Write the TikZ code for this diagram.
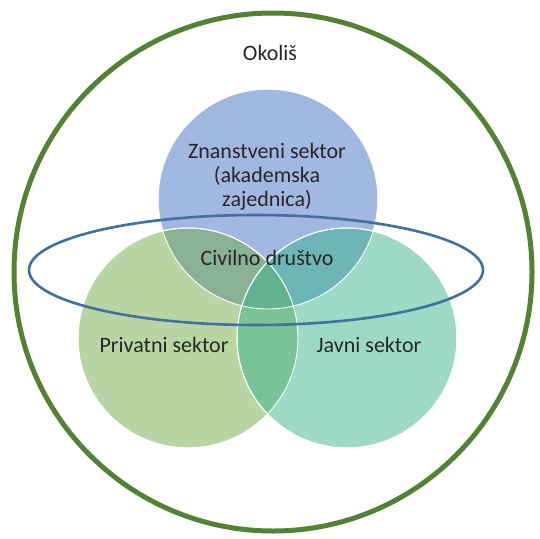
\documentclass[tikz,border=0pt]{standalone}
\usepackage{fontspec}
\setmainfont{Carlito}
\begin{document}
\begin{tikzpicture}[x=1pt,y=-1pt,
  venn/.style={draw=white,line width=1pt,fill opacity=0.5},
  lbl/.style={font=\fontsize{22}{24}\selectfont,text=black!85,align=center,inner sep=0pt}]
\useasboundingbox (0,0) rectangle (540,538);
\definecolor{outergreen}{HTML}{548235}
\definecolor{ringblue}{HTML}{41719C}
\definecolor{cblue}{HTML}{4472C4}
\definecolor{cgreen}{HTML}{70AD47}
\definecolor{cteal}{HTML}{3BB38B}
% outer circle
\draw[outergreen,line width=5pt] (273,272) circle[radius=259];
% venn circles
\fill[cblue,venn] (268,199) circle[radius=110];
\fill[cgreen,venn] (188,338) circle[radius=110];
\fill[cteal,venn] (347,338) circle[radius=110];
\draw[white,line width=0.8pt] (268,199) circle[radius=110];
\draw[white,line width=0.8pt] (188,338) circle[radius=110];
\draw[white,line width=0.8pt] (347,338) circle[radius=110];
% ellipse
\draw[ringblue,line width=2.6pt] (256,270) ellipse[x radius=227,y radius=55];
% labels
\node[lbl] (okolis) at (270,53) {Okoliš};
\node[lbl] (znan) at (267,177) {Znanstveni sektor\\(akademska\\zajednica)};
\node[lbl] (civ) at (267,258) {Civilno društvo};
\node[lbl] (priv) at (164,345) {Privatni sektor};
\node[lbl] (javni) at (369,345) {Javni sektor};
\end{tikzpicture}
\end{document}
